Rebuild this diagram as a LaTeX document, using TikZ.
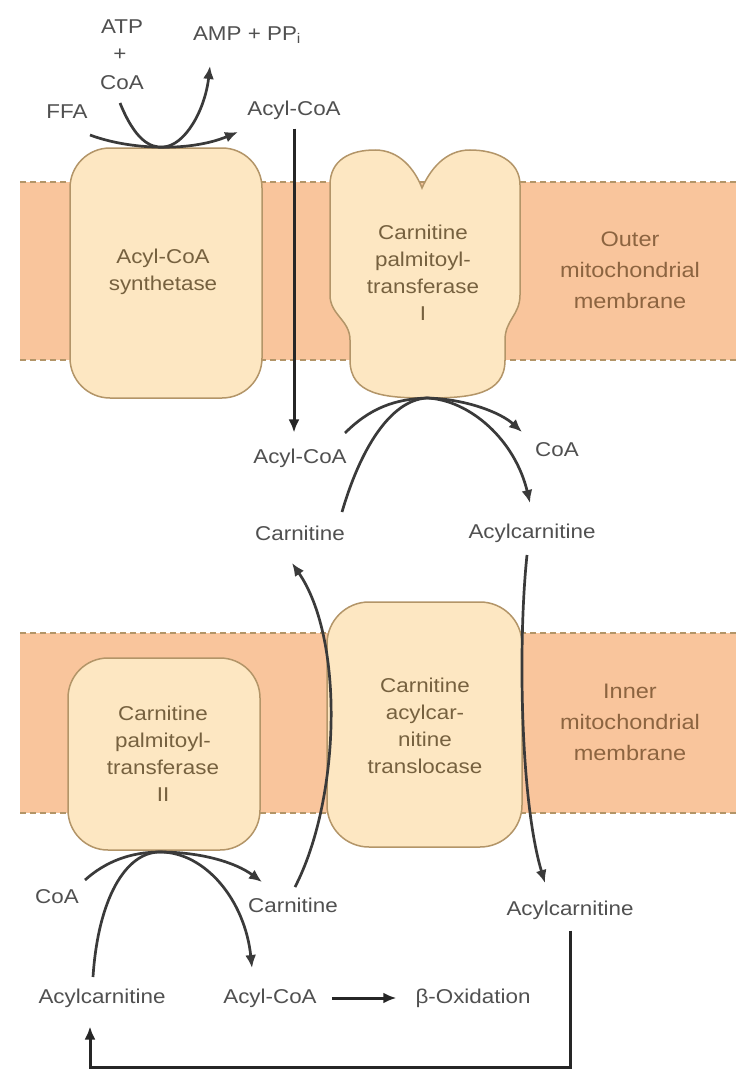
\documentclass[tikz,border=0pt]{standalone}
\usepackage{fontspec}
\setmainfont{Liberation Sans}[FakeStretch=1.12]
\usetikzlibrary{arrows.meta}

\definecolor{bandOrange}{HTML}{F9C59C}
\definecolor{protFill}{HTML}{FDE7C2}
\definecolor{protEdge}{HTML}{B39568}
\definecolor{labelGray}{HTML}{505050}
\definecolor{enzText}{HTML}{76613F}
\definecolor{memText}{HTML}{8C6440}
\definecolor{lineGray}{HTML}{3A3A3A}

\begin{document}
\begin{tikzpicture}
[x=1pt,y=-1pt,
  labelDecorate/.style={text=labelGray,font=\fontsize{20}{24}\selectfont,inner sep=1pt},
  enzDecorate/.style={text=enzText,align=center,font=\fontsize{20}{27}\selectfont},
  memDecorate/.style={text=memText,align=center,font=\fontsize{21}{31}\selectfont},
  bandDecorate/.style={fill=bandOrange,draw=none},
  edgeDecorate/.style={draw=protEdge,dash pattern=on 6pt off 4pt,line width=1.3pt},
  protDecorate/.style={fill=protFill,draw=protEdge,line width=1.5pt},
  lineDecorate/.style={draw=lineGray,line width=2.7pt,-{Latex[length=13pt,width=11pt]}},
  boldDecorate/.style={draw=black!85,line width=3pt,-{Latex[length=13pt,width=11pt]}}]
\useasboundingbox[fill=white] (0,0) rectangle (736,1070);
%% membranes
\foreach \ya/\yb in {182/360, 633/813}
{
  \fill[bandDecorate] (20,\ya) rectangle (736,\yb);
  \draw[edgeDecorate] (20,\ya) -- (736,\ya) (20,\yb) -- (736,\yb);
}
%% enzymes
\draw[protDecorate,rounded corners=40pt] (70,148) rectangle (262,398);
\draw[protDecorate] (330,295) -- (330,185)
  .. controls (330,160) and (350,150) .. (375,150)
  .. controls (400,150) and (415,170) .. (422,188)
  .. controls (430,170) and (445,150) .. (470,150)
  .. controls (495,150) and (520,160) .. (520,185) -- (520,295)
  .. controls (520,315) and (505,320) .. (505,340) -- (505,360)
  .. controls (505,395) and (470,398) .. (427,398)
  .. controls (385,398) and (350,395) .. (350,360) -- (350,340)
  .. controls (350,320) and (330,315) .. (330,295) -- cycle;
\draw[protDecorate,rounded corners=42pt] (327,602) rectangle (522,847);
\draw[protDecorate,rounded corners=40pt] (68,658) rectangle (260,850);
\node[enzDecorate] (synthText) at (163,272) {Acyl-CoA\\synthetase};
\node[enzDecorate] (cptIText) at (423,273) {Carnitine\\palmitoyl-\\transferase\\I};
\node[enzDecorate] (translText) at (425,726) {Carnitine\\acylcar-\\nitine\\translocase};
\node[enzDecorate] (cptIIText) at (163,754) {Carnitine\\palmitoyl-\\transferase\\II};
\node[memDecorate] (outerText) at (630,270) {Outer\\mitochondrial\\membrane};
\node[memDecorate] (innerText) at (630,722) {Inner\\mitochondrial\\membrane};
%% metabolites
\foreach \nodename/\x/\y/\txt in {
  atp/122/27/ATP, plus/120/55/+, coaT/122/83/CoA, ffa/67/112/FFA,
  amp/247/35/{AMP + PP\textsubscript{i}}, acylcoaT/294/110/Acyl-CoA,
  acylcoaM/300/458/Acyl-CoA, coaM/557/450/CoA,
  carnM/300/533/Carnitine, acarnM/532/533/Acylcarnitine,
  coaB/57/897/CoA, carnB/293/905/Carnitine, acarnR/570/910/Acylcarnitine,
  acarnB/102/998/Acylcarnitine, acylcoaB/270/998/Acyl-CoA, oxid/473/998/β-Oxidation}
{
  \node[labelDecorate] (\nodename) at (\x,\y) {\txt};
}
%% contact points
\coordinate (synthTop) at (163,147);
\coordinate (cptIBot) at (427,398);
\coordinate (cptIIBot) at (160,852);
\coordinate (ffaIn) at (90,135);
\coordinate (coaIn) at (120,103);
\coordinate (ampTip) at (210,66);
\coordinate (acylTip) at (238,132);
\coordinate (acylIn) at (345,433);
\coordinate (coaTip) at (522,432);
\coordinate (carnIn) at (342,512);
\coordinate (acarnTip) at (530,503);
\coordinate (carnUp) at (292,563);
\coordinate (carnLow) at (295,887);
\coordinate (acarnTop) at (527,555);
\coordinate (acarnLow) at (545,883);
\coordinate (coaInB) at (85,880);
\coordinate (carnTipB) at (262,882);
\coordinate (acarnInB) at (93,977);
\coordinate (acylTipB) at (252,968);
\coordinate (loopCorner) at (90,1067);
%% reactions
\draw[lineDecorate] (ffaIn) .. controls (130,150) and (190,152) .. (acylTip);
\draw[lineDecorate] (coaIn) .. controls (135,140) and (150,148) .. (synthTop)
  .. controls (185,146) and (205,110) .. (ampTip);
\draw[boldDecorate,shorten <=8pt,shorten >=15pt] (acylcoaT.south) -- (acylcoaT.south |- acylcoaM.north);
\draw[lineDecorate] (acylIn) .. controls (370,408) and (395,399) .. (cptIBot)
  .. controls (465,399) and (500,412) .. (coaTip);
\draw[lineDecorate] (carnIn) .. controls (360,450) and (390,400) .. (cptIBot)
  .. controls (470,400) and (515,440) .. (acarnTip);
\draw[lineDecorate] (carnLow) .. controls (340,800) and (345,640) .. (carnUp);
\draw[lineDecorate] (acarnTop) .. controls (518,640) and (520,800) .. (acarnLow);
\draw[lineDecorate] (coaInB) .. controls (105,862) and (130,852) .. (cptIIBot)
  .. controls (200,852) and (235,862) .. (carnTipB);
\draw[lineDecorate] (acarnInB) .. controls (98,900) and (125,852) .. (cptIIBot)
  .. controls (205,852) and (245,900) .. (acylTipB);
\draw[boldDecorate,shorten <=14pt,shorten >=18pt] (acylcoaB.east) -- (oxid.west);
\draw[boldDecorate,shorten <=10pt,shorten >=18pt] (acarnR.south) |- (loopCorner) -- (acarnB.south -| loopCorner);
\end{tikzpicture}
\end{document}
